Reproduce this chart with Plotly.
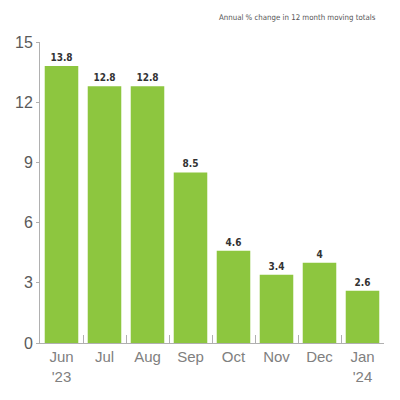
import plotly.graph_objects as go

months = ["Jun<br>'23", "Jul", "Aug", "Sep", "Oct", "Nov", "Dec", "Jan<br>'24"]
values = [13.8, 12.8, 12.8, 8.5, 4.6, 3.4, 4.0, 2.6]
labels = ["13.8", "12.8", "12.8", "8.5", "4.6", "3.4", "4", "2.6"]
y_ticks = [0, 3, 6, 9, 12, 15]

fig = go.Figure(go.Bar(
    x=months, y=values, text=labels, textposition="outside",
    marker=dict(color="#8dc63f", line=dict(width=0)),
    textfont=dict(family="DejaVu Sans Condensed, Liberation Sans Narrow, sans-serif",
                  size=10, color="#333333", weight="bold"),
    cliponaxis=False,
))

fig.update_layout(
    width=400, height=400,
    margin=dict(l=32, r=24, t=34, b=65, autoexpand=False),
    paper_bgcolor="white", plot_bgcolor="white",
    bargap=0.22, showlegend=False,
    font=dict(family="Liberation Sans, Arial, sans-serif", color="#666666"),
    annotations=[dict(
        text="Annual % change in 12 month moving totals",
        xref="paper", yref="paper", x=0.983, y=1, xanchor="right", yanchor="bottom",
        yshift=18, showarrow=False,
        font=dict(family="DejaVu Sans Condensed, sans-serif",
                  size=7.8, color="#555555"),
    )],
)
fig.update_xaxes(
    showline=True, linecolor="#b0b0b0", linewidth=1, automargin=False,
    ticks="inside", tickson="boundaries", ticklen=8, tickcolor="#b0b0b0",
    tickfont=dict(size=15, color="#808080"), showgrid=False,
)
fig.update_yaxes(
    range=[0, 15], tickvals=y_ticks, showline=True, linecolor="#b0b0b0", linewidth=1,
    automargin=False,
    ticks="outside", ticklen=3, tickcolor="#b0b0b0", showgrid=False, zeroline=False,
    tickfont=dict(size=16, color="#5a5a5a"),
)

fig.write_html("out.html")
